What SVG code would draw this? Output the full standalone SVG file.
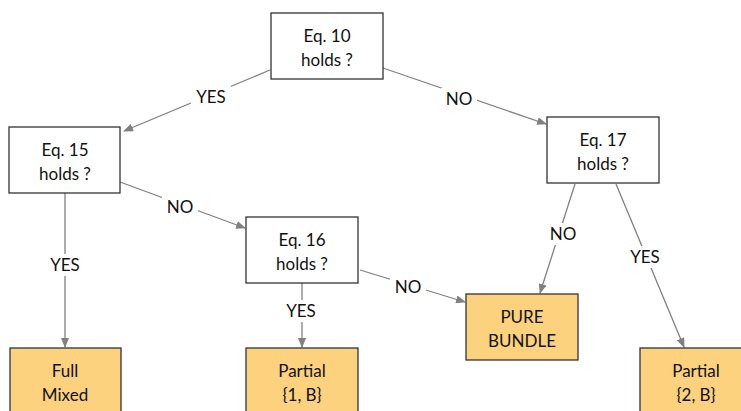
<svg xmlns="http://www.w3.org/2000/svg" width="741" height="411" viewBox="0 0 741 411">
<defs>
<marker id="ah" markerWidth="10" markerHeight="8" refX="9" refY="4" orient="auto" markerUnits="userSpaceOnUse">
<path d="M0,0 L10,4 L0,8 Z" fill="#808080"/>
</marker>
<style>
.q{fill:#fff;stroke:#333;stroke-width:1.3}
.r{fill:#FDD27E;stroke:#333;stroke-width:1.3}
.t{font-family:Lato,"Liberation Sans",sans-serif;font-size:17px;fill:#111;text-anchor:middle}
.c{stroke:#808080;stroke-width:1.3;fill:none;marker-end:url(#ah)}
.bg{fill:#fff}
</style>
</defs>
<rect width="741" height="411" fill="#fff"/>
<g id="connectors">
<line class="c" x1="270" y1="70" x2="124" y2="131"/>
<line class="c" x1="383" y1="68" x2="546" y2="124"/>
<line class="c" x1="65" y1="193" x2="65" y2="347"/>
<line class="c" x1="120" y1="182" x2="245" y2="228"/>
<line class="c" x1="302" y1="283" x2="302" y2="347"/>
<line class="c" x1="360" y1="270" x2="465" y2="302"/>
<line class="c" x1="575" y1="184" x2="540" y2="293"/>
<line class="c" x1="616" y1="184" x2="684" y2="347"/>
<rect class="bg" x="191" y="86" width="40" height="22"/>
<rect class="bg" x="441" y="88" width="36" height="22"/>
<rect class="bg" x="45" y="254" width="40" height="22"/>
<rect class="bg" x="162" y="196" width="36" height="22"/>
<rect class="bg" x="282" y="300" width="40" height="22"/>
<rect class="bg" x="390" y="276" width="36" height="22"/>
<rect class="bg" x="545" y="223" width="36" height="22"/>
<rect class="bg" x="625" y="246" width="40" height="22"/>
<text class="t" x="211" y="103">YES</text>
<text class="t" x="459" y="105">NO</text>
<text class="t" x="65" y="271">YES</text>
<text class="t" x="180" y="213">NO</text>
<text class="t" x="301" y="317">YES</text>
<text class="t" x="408" y="293">NO</text>
<text class="t" x="563" y="240">NO</text>
<text class="t" x="645" y="263">YES</text>
</g>
<g id="eq10">
<rect class="q" x="271" y="13" width="112" height="66"/>
<text class="t" x="327" y="42">Eq. 10</text>
<text class="t" x="327" y="66">holds ?</text>
</g>
<g id="eq15">
<rect class="q" x="9" y="127" width="111" height="66"/>
<text class="t" x="65" y="156">Eq. 15</text>
<text class="t" x="65" y="180">holds ?</text>
</g>
<g id="eq17">
<rect class="q" x="547" y="117" width="112" height="66"/>
<text class="t" x="603" y="146">Eq. 17</text>
<text class="t" x="603" y="170">holds ?</text>
</g>
<g id="eq16">
<rect class="q" x="246" y="217" width="112" height="66"/>
<text class="t" x="302" y="246">Eq. 16</text>
<text class="t" x="302" y="270">holds ?</text>
</g>
<g id="pure">
<rect class="r" x="466" y="294" width="112" height="66"/>
<text class="t" x="522" y="323">PURE</text>
<text class="t" x="522" y="347">BUNDLE</text>
</g>
<g id="full">
<rect class="r" x="10" y="348" width="111" height="70"/>
<text class="t" x="65" y="377">Full</text>
<text class="t" x="65" y="401">Mixed</text>
</g>
<g id="partial1">
<rect class="r" x="246" y="348" width="112" height="70"/>
<text class="t" x="302" y="377">Partial</text>
<text class="t" x="302" y="401">{1, B}</text>
</g>
<g id="partial2">
<rect class="r" x="640" y="348" width="112" height="70"/>
<text class="t" x="696" y="377">Partial</text>
<text class="t" x="696" y="401">{2, B}</text>
</g>
</svg>
